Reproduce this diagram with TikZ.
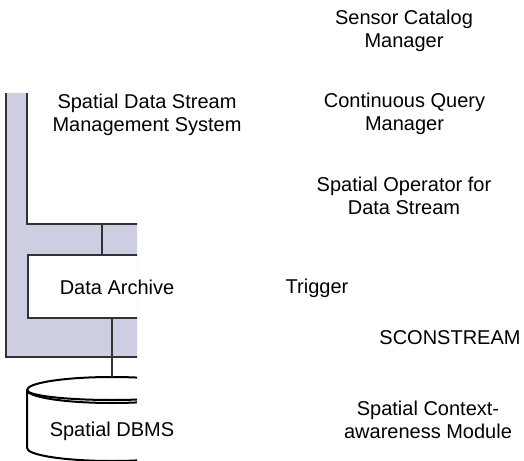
\documentclass[tikz,border=0pt]{standalone}
\usepackage{fontspec}
\setmainfont{Liberation Sans}
\definecolor{panelfill}{RGB}{206,206,226}
\definecolor{lineg}{RGB}{50,50,50}
\begin{document}
\begin{tikzpicture}[x=1bp,y=-1bp,
  lbl/.style={font=\fontsize{20bp}{23bp}\selectfont, align=center, inner sep=0pt, text=black},
  edge/.style={draw=lineg, line width=1.5bp},
  cyl/.style={draw=black, line width=2bp}]
\useasboundingbox (0,0) rectangle (524,461);
% shapes, cropped at the right
\begin{scope}
  \clip (0,0) rectangle (137,461);
  \fill[panelfill] (6,93) -- (27,93) -- (27,224) -- (220,224) -- (220,357) -- (6,357) -- cycle;
  \draw[edge] (6,93) -- (6,357) -- (220,357);
  \draw[edge] (27,93) -- (27,224) -- (220,224);
  \node[edge, fill=white, minimum width=180bp, minimum height=63bp, inner sep=0pt, anchor=north west] (archive) at (27,254) {};
  \coordinate (paneledge) at (102,224);
  \draw[edge] (paneledge) -- (paneledge |- archive.north);
  % cylinder
  \coordinate (dbmstop) at (112,377);
  \fill[white] (27,390) arc[start angle=180, end angle=360, x radius=85, y radius=13] -- (197,448) arc[start angle=0, end angle=180, x radius=85, y radius=13] -- cycle;
  \draw[cyl] (27,448) -- (27,390) arc[start angle=180, end angle=360, x radius=85, y radius=13] -- (197,448);
  \draw[cyl] (27,390) arc[start angle=180, end angle=0, x radius=85, y radius=13];
  \draw[cyl] (27,390) arc[start angle=180, end angle=0, x radius=85, y radius=10];
  \draw[cyl] (27,448) arc[start angle=180, end angle=0, x radius=85, y radius=13];
  \draw[edge] (archive.south -| dbmstop) -- (dbmstop);
\end{scope}
% labels
\node[lbl] (sdsms) at (147,114.5) {Spatial Data Stream\\Management System};
\node[lbl] (archivetxt) at (117,287) {Data Archive};
\node[lbl] (dbms) at (112,431) {Spatial DBMS};
\node[lbl] (scm) at (404,30.5) {Sensor Catalog\\Manager};
\node[lbl] (cqm) at (404.5,113.5) {Continuous Query\\Manager};
\node[lbl] (sop) at (404,195.5) {Spatial Operator for\\Data Stream};
\node[lbl] (trig) at (317,288) {Trigger};
\node[lbl] (scon) at (450,337.5) {SCONSTREAM};
\node[lbl] (scam) at (428,420) {Spatial Context-\\awareness Module};
\end{tikzpicture}
\end{document}
